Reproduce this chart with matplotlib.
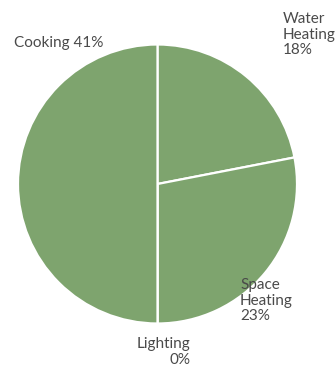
import matplotlib
matplotlib.use("Agg")
import matplotlib.pyplot as plt

# Household energy use by end use (% share)
categories = ["Water Heating", "Space Heating", "Lighting", "Cooking"]
shares = [18, 23, 0, 41]
label_texts = ["Water\nHeating\n18%", "Space\nHeating\n23%", "Lighting\n0%", "Cooking 41%"]

W, H = 336, 367
fig = plt.figure(figsize=(W / 100, H / 100), dpi=100)

# pie centre and radius in pixels
cx, cy, r = 157.5, 184, 139.5
ax = fig.add_axes([(cx - r) / W, (H - cy - r) / H, 2 * r / W, 2 * r / H])
ax.pie(shares, startangle=90, counterclock=False, colors=["#7ea46e"] * 4,
       wedgeprops=dict(edgecolor="white", linewidth=1.6))
ax.set_xlim(-1, 1)
ax.set_ylim(-1, 1)
ax.axis("off")

# label anchors (pixels, top-left origin) and alignment
label_pos = [(283, 12, "left"), (240, 278, "left"), (190, 337, "right"), (14, 36, "left")]
for txt, (x, y, ha) in zip(label_texts, label_pos):
    fig.text(x / W, 1 - y / H, txt, ha=ha, va="top", fontsize=11,
             family="Lato", fontweight="normal", color="#4a4a4a",
             linespacing=1.15, multialignment=ha)

fig.savefig("out.png", dpi=100)
